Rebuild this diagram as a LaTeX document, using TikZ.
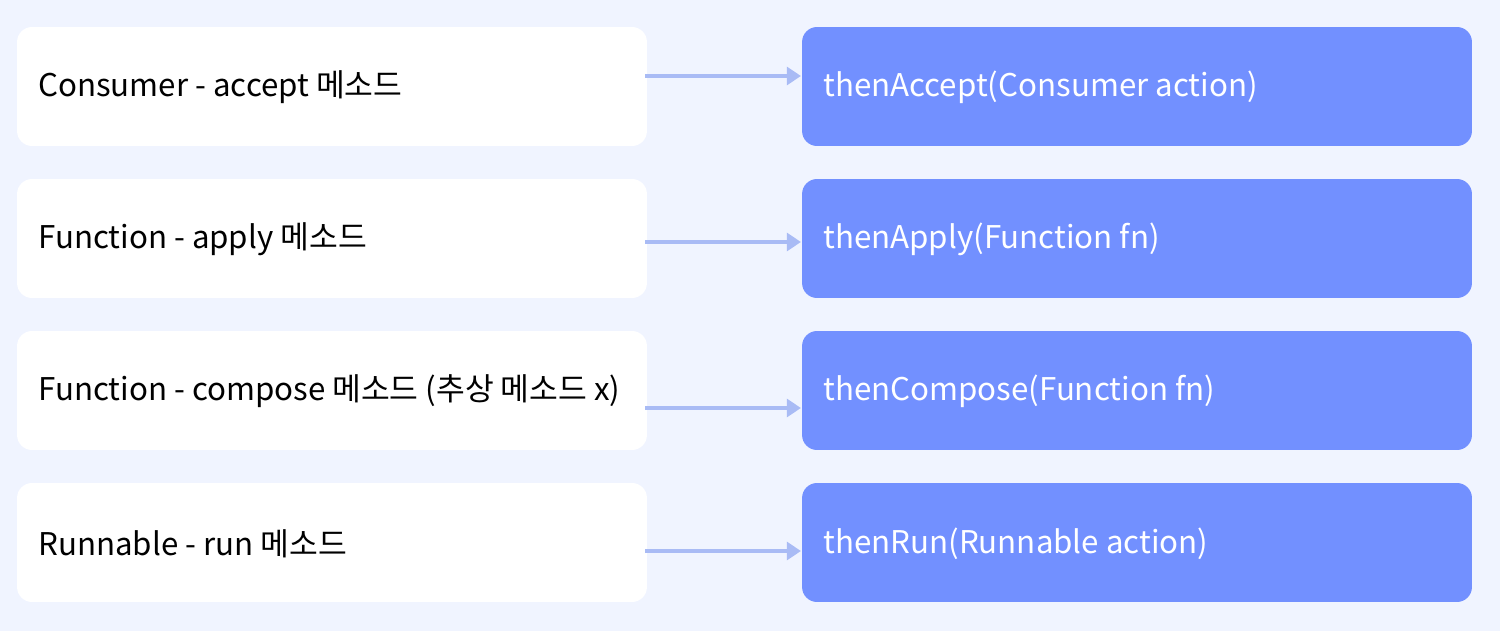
\documentclass[tikz,border=0pt]{standalone}
\usepackage{fontspec}
\setmainfont{Noto Sans CJK KR}
\usetikzlibrary{arrows.meta}
\definecolor{bgc}{HTML}{F0F4FF}
\definecolor{bluebox}{HTML}{7290FF}
\definecolor{arrowc}{HTML}{A9BBF5}
\tikzset{
  leftbox/.style={fill=white, rounded corners=0.3cm, minimum width=12.6cm, minimum height=2.38cm, inner sep=0pt},
  rightbox/.style={fill=bluebox, rounded corners=0.3cm, minimum width=13.4cm, minimum height=2.38cm, inner sep=0pt},
  lbl/.style={font=\fontsize{17.8}{21}\selectfont, anchor=west, text=black, inner sep=0pt},
  rlbl/.style={font=\fontsize{17.8}{21}\selectfont, anchor=west, text=white, inner sep=0pt},
  conn/.style={draw=arrowc, line width=2pt, -{Triangle[length=8pt,width=10pt]}}
}
\begin{document}
\begin{tikzpicture}[x=0.02cm,y=-0.02cm]
\fill[bgc] (0,0) rectangle (1500,631);
\useasboundingbox (0,0) rectangle (1500,631);
\foreach \i/\cy/\ay/\lt/\rt in {
 1/86.5/76/{Consumer - accept 메소드}/{thenAccept(Consumer action)},
 2/238.5/242/{Function - apply 메소드}/{thenApply(Function fn)},
 3/390.5/408/{Function - compose 메소드 (추상 메소드 x)}/{thenCompose(Function fn)},
 4/542.5/551/{Runnable - run 메소드}/{thenRun(Runnable action)}}{
  \node[leftbox] (L\i) at (332,\cy) {};
  \node[rightbox] (R\i) at (1137,\cy) {};
  \node[lbl] (LT\i) at (38,\cy+1) {\lt};
  \node[rlbl] (RT\i) at (823,\cy+1) {\rt};
  \coordinate (A\i) at (645,\ay);
  \coordinate (B\i) at (801,\ay);
  \draw[conn] (A\i) -- (B\i);
}
\end{tikzpicture}
\end{document}
